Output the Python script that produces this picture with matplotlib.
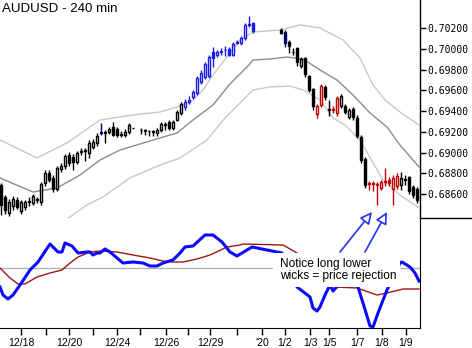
import matplotlib
matplotlib.use("Agg")
import matplotlib.pyplot as plt
from matplotlib.lines import Line2D
from matplotlib.patches import Rectangle
import numpy as np

nan = np.nan

# AUDUSD 4h bars, one slot per bar (nan = no bars shown)
opens = [
    .68687, .68571, .68416, .68484, .68542, .68436, .68474, .68523, .68513, .68542,
    .68523, .68706, .68803, .68755, .68648, .68841, .68870, .68977, .68957, .68909,
    .69006, .69015, .68996, .69054, .69093, .69189, .69189, .69199, .69247, .69228,
    .69170, .69170, .69199, .69237, nan, .69218, .69209, .69209, .69199, .69189,
    .69218, .69266, .69295, .69237, .69315, .69382, .69440, .69489, .69537, .69576,
    .69682, .69730, .69740, .69972, .69943, .69972, .69991, .70001, .69943, .70059,
    .70059, .70107, .70233, .70252, nan, nan, nan, nan, nan, nan,
    .70184, .70165, .70068, .69972, .70010, .69836, .69914, .69740, .69614, .69373,
    .69460, .69634, .69411, .69411, .69382, .69450, .69450, .69344, .69421, .69334,
    .69151, .68938, .68697, .68706, .68687, .68658, .68716, .68735, .68648, .68677,
    .68687, .68735, .68764, .68668, .68648]
highs = [
    .68706, .68590, .68552, .68581, .68571, .68542, .68542, .68571, .68600, .68571,
    .68716, .68832, .68832, .68783, .68870, .68899, .68986, .69006, .68986, .69015,
    .69044, .69044, .69122, .69131, .69189, .69286, .69218, .69247, .69295, .69247,
    .69209, .69228, .69286, .69240, nan, .69237, .69228, .69218, .69218, .69237,
    .69295, .69295, .69315, .69315, .69411, .69489, .69518, .69547, .69605, .69740,
    .69798, .69875, .69943, .70020, .69991, .70010, .70030, .70020, .70068, .70088,
    .70126, .70252, .70319, .70261, nan, nan, nan, nan, nan, nan,
    .70204, .70184, .70088, .70010, .70020, .69923, .69923, .69750, .69624, .69469,
    .69663, .69653, .69508, .69450, .69547, .69566, .69469, .69431, .69440, .69363,
    .69170, .68957, .68726, .68726, .68716, .68735, .68851, .68764, .68783, .68803,
    .68812, .68783, .68774, .68687, .68668]
lows = [
    .68397, .68407, .68388, .68445, .68455, .68407, .68445, .68484, .68494, .68513,
    .68494, .68677, .68716, .68619, .68629, .68812, .68841, .68870, .68832, .68890,
    .68977, .68919, .68948, .69035, .69064, .69170, .69093, .69180, .69160, .69151,
    .69151, .69151, .69180, .69234, nan, .69180, .69170, .69160, .69160, .69160,
    .69199, .69218, .69218, .69218, .69305, .69363, .69411, .69469, .69518, .69556,
    .69663, .69711, .69721, .69827, .69923, .69943, .69933, .69933, .69933, .70049,
    .70039, .70088, .70213, .70155, nan, nan, nan, nan, nan, nan,
    .70146, .70020, .69962, .69943, .69836, .69817, .69730, .69585, .69411, .69334,
    .69440, .69508, .69353, .69382, .69353, .69431, .69373, .69324, .69315, .69141,
    .68899, .68658, .68639, .68629, .68494, .68639, .68677, .68677, .68494, .68648,
    .68639, .68687, .68600, .68561, .68513]
closes = [
    .68494, .68445, .68523, .68552, .68474, .68523, .68523, .68532, .68581, .68552,
    .68697, .68803, .68735, .68648, .68851, .68870, .68967, .68899, .68909, .68996,
    .69015, .69025, .69093, .69102, .69160, .69199, .69199, .69228, .69170, .69170,
    .69180, .69199, .69266, .69235, nan, .69216, .69218, .69207, .69209, .69218,
    .69276, .69276, .69237, .69295, .69392, .69469, .69489, .69508, .69585, .69721,
    .69769, .69856, .69923, .69914, .69972, .69981, .69989, .69943, .70049, .70068,
    .70107, .70233, .70242, .70175, nan, nan, nan, nan, nan, nan,
    .70155, .70059, .70030, .69970, .69875, .69904, .69759, .69605, .69450, .69450,
    .69643, .69537, .69421, .69421, .69527, .69547, .69392, .69411, .69344, .69160,
    .68928, .68687, .68706, .68697, .68697, .68716, .68726, .68706, .68755, .68774,
    .68755, .68745, .68629, .68590, .68542]
# candle colour key per bar: k black, b blue, n navy, r red, - gap
bar_colors = ("k" * 25 + "n" + "k" * 19 + "b" * 18 + "k" + "-" * 6 + "n"
              + "k" * 7 + "rr" + "kk" + "rr" + "k" * 7 + "r" * 8 + "k" * 6)

# envelope bands (bar slot, price)
upper_x = [-0.25, 9, 16.5, 24.75, 33, 39.75, 44, 48, 50.5, 53, 56.5, 59.75, 63,
           69.75, 74.75, 79.75, 85.5, 89.75, 93, 96, 99.75, 104.5]
upper_y = [.69122, .68948, .69093, .69315, .69363, .69392, .69440, .69508, .69605,
           .69750, .69923, .70088, .70165, .70184, .70233, .70204, .70088, .69914,
           .69653, .69508, .69392, .69266]
mid_x = [-0.25, 8, 14, 19.75, 24.75, 29.75, 39.75, 44, 48, 53, 57.25, 61.5, 63,
         67.25, 71.5, 75.5, 79.75, 84, 88, 92.25, 96.5, 99.75, 104.5]
mid_y = [.68755, .68619, .68658, .68783, .68928, .69025, .69141, .69189, .69315,
         .69460, .69663, .69827, .69894, .69904, .69923, .69904, .69798, .69701,
         .69556, .69382, .69247, .69073, .68861]
lower_x = [13.5, 17.25, 21.5, 25.5, 32.25, 39.75, 44.75, 51.5, 56, 60.5, 63,
           67.25, 72.25, 75.5, 79.75, 83, 86, 89.75, 95.5, 99.75, 104.5]
lower_y = [.68301, .68378, .68494, .68571, .68755, .68880, .68948, .69122, .69334,
           .69508, .69605, .69634, .69643, .69605, .69508, .69334, .69266, .69122,
           .68735, .68590, .68465]

# oscillator panel
osc_x = [-0.25, 0.5, 1.75, 3, 4.75, 7.25, 9.25, 12.25, 14.25, 15.25, 16, 17.75,
         19.25, 21.5, 22.25, 23, 24, 24.75, 26, 27.25, 29, 30.5, 33, 35.5, 37.25,
         39, 40.5, 43, 44.75, 46, 48, 51, 53, 55.25, 57.25, 59, 62.75, 70.25, 72.25,
         74, 77.25, 78, 79, 79.75, 81, 82.25, 83, 86, 89.25, 90.5, 92.25, 93, 94.25,
         96.5, 98, 99.75, 100.25, 102.25, 103.5, 104.5]
osc_y = [-19, -27, -31, -27, -17, -2, 6, 24, 16, 16, 25, 22,
         15, 16, 16, 13, 15, 15, 19, 16, 10, 5, 6, 5, 2,
         2, 5, 8, 15, 21, 22, 33, 33, 26, 16, 12, 21, 15, 3,
         -19, -29, -40, -43, -39, -27, -17, -23, -10, -19, -35, -58, -59, -45,
         -22, -9, 5, 6, 1, -5, -13]
sig_x = [-0.25, 2.25, 4.25, 6, 9, 12.25, 15.25, 17.25, 19.25, 22.25, 24.75, 29,
         33, 37.25, 40.5, 43, 45.5, 49, 52.25, 56.5, 59.75, 60.5, 70.5, 74, 77.25,
         79.75, 83.5, 89, 94, 96.5, 100.5, 104.5]
sig_y = [0, -10, -16, -16, -9, -5, -2, 5, 11, 16, 17, 16,
         13, 10, 7, 6, 6, 9, 13, 21, 23, 24, 23, 15, -2,
         -16, -19, -20, -27, -25, -21, -21]

tick_pos = [5, 11.25, 17, 23, 29, 34.75, 41.25, 46.75, 52.25, 59, 65.25, 71,
            77.25, 82, 89, 95.25, 101.25]
tick_lab = ["12/18", "", "12/20", "", "12/24", "", "12/26", "", "12/29", "",
            "'20", "1/2", "1/3", "1/5", "1/7", "1/8", "1/9"]
price_ticks = [0.686, 0.688, 0.690, 0.692, 0.694, 0.696, 0.698, 0.700, 0.702]

palette = {"k": "#000000", "b": "#1a1ae6", "n": "#00006e", "r": "#c40000"}

plt.rcParams["font.family"] = ["Liberation Sans", "DejaVu Sans"]

fig = plt.figure(figsize=(4.72, 3.48), dpi=100)
ax = fig.add_axes([0, 130 / 348, 420 / 472, 218 / 348])
ax2 = fig.add_axes([0, 20 / 348, 420 / 472, 110 / 348])
ax2.set_facecolor("none")

o = np.array(opens); h = np.array(highs); l = np.array(lows); c = np.array(closes)
x = np.arange(len(o))
ok = ~np.isnan(o)
edge = [palette[k] for k in bar_colors if k != "-"]
face = ["white" if cc >= oo else col for oo, cc, col in zip(o[ok], c[ok], edge)]
bottom = np.minimum(o[ok], c[ok])
height = np.maximum(np.abs(c[ok] - o[ok]), 0.000005)

# bands
ax.plot(upper_x, upper_y, color="#c8c8c8", lw=1, zorder=1)
ax.plot(mid_x, mid_y, color="#8c8c8c", lw=1, zorder=1)
ax.plot(lower_x, lower_y, color="#c8c8c8", lw=1, zorder=1)

# candles
ax.vlines(x[ok], l[ok], h[ok], colors=edge, lw=1, zorder=2)
ax.bar(x[ok], height, bottom=bottom, width=0.6, color=face, edgecolor=edge,
       linewidth=1, zorder=3)

ax.set_xlim(-0.25, 104.75)
ax.set_ylim(0.68368, 0.70474)
ax.yaxis.tick_right()
ax.set_yticks(price_ticks)
ax.set_yticklabels(["%.5f" % p for p in price_ticks], family="DejaVu Sans Mono",
                   fontsize=7)
ax.tick_params(axis="y", direction="out", length=4, width=1, pad=1)
ax.set_xticks([])
for s in ["left", "top", "bottom"]:
    ax.spines[s].set_visible(False)
ax.spines["right"].set_linewidth(1)

# oscillator
ax2.axhline(0, color="#b4b4b4", lw=1, zorder=1)
ax2.plot(sig_x, sig_y, color="#a01515", lw=1, zorder=2)
ax2.plot(osc_x, osc_y, color="#0a0aff", lw=2.2, zorder=2)
ax2.set_xlim(-0.25, 104.75)
ax2.set_ylim(-60, 50)
ax2.set_yticks([])
ax2.set_xticks(tick_pos)
ax2.set_xticklabels(tick_lab, fontsize=7.5)
ax2.tick_params(axis="x", direction="out", length=5, width=1, pad=2)
for s in ["left", "top"]:
    ax2.spines[s].set_visible(False)

# note box
ax2.add_patch(Rectangle((68, -19), 31.75, 34, facecolor="white", edgecolor="none",
                        zorder=4))
ax2.text(69.75, -2, "Notice long lower\nwicks = price rejection", fontsize=8.6,
         va="center", ha="left", linespacing=1.1, zorder=5)
for tip_x, tail_x in [(92.75, 84.75), (96.5, 91)]:
    ax2.annotate("", xy=(tip_x, 0.68426), xycoords=ax.transData,
                 xytext=(tail_x, 16), textcoords=ax2.transData,
                 arrowprops=dict(arrowstyle="-|>,head_length=0.7,head_width=0.35",
                                 fc="white", ec="#2233ee", lw=1.2,
                                 shrinkA=0, shrinkB=0),
                 annotation_clip=False, zorder=6)

fig.add_artist(Line2D([420 / 472, 1], [130 / 348, 130 / 348], color="black", lw=1))
fig.text(2 / 472, 1 - 9 / 348, "AUDUSD - 240 min", fontsize=9.6, va="center",
         ha="left")

fig.savefig("out.png", dpi=100)
